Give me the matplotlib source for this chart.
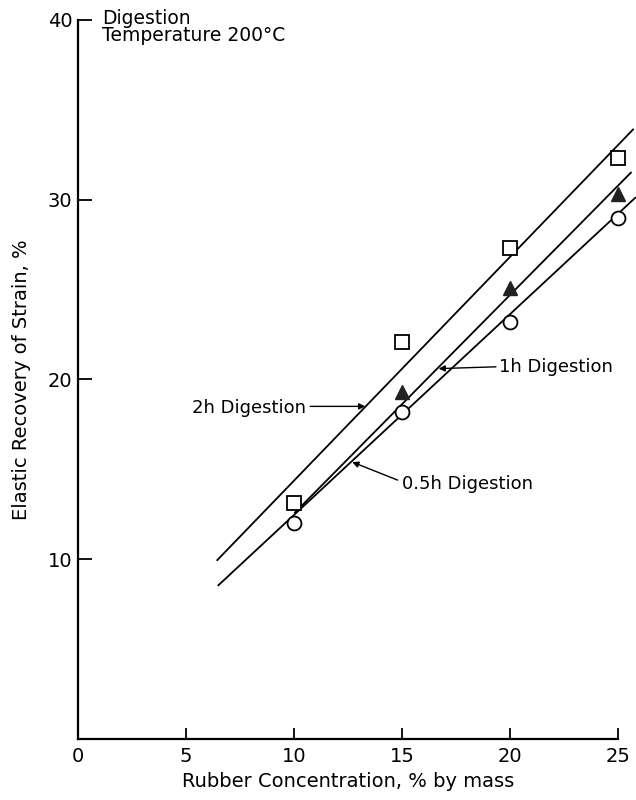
import matplotlib.pyplot as plt

# rubber concentration, % by mass
conc = [10, 15, 20, 25]
conc_1h = [15, 20, 25]

# elastic recovery of strain, %
rec_2h = [13.1, 22.1, 27.3, 32.3]
rec_1h = [19.3, 25.1, 30.3]
rec_05h = [12.0, 18.2, 23.2, 29.0]

# fitted lines (end points)
fit_2h_x = [6.45, 25.7]
fit_2h_y = [9.95, 33.9]
fit_1h_x = [10.05, 25.6]
fit_1h_y = [12.6, 31.5]
fit_05h_x = [6.5, 25.8]
fit_05h_y = [8.55, 30.1]

xticks = [0, 5, 10, 15, 20, 25]
yticks = [10, 20, 30, 40]

plt.rcParams['font.family'] = ['DejaVu Sans']

fig = plt.figure(figsize=(6.36, 8), dpi=100)
ax = fig.add_axes([0.1226, 0.07625, 0.849, 0.899])

for fx, fy in [(fit_2h_x, fit_2h_y), (fit_1h_x, fit_1h_y), (fit_05h_x, fit_05h_y)]:
    ax.plot(fx, fy, color='black', lw=1.3, clip_on=False)

ax.plot(conc, rec_2h, 's', ms=10, mfc='white', mec='black', mew=1.3,
        ls='none', clip_on=False, zorder=3)
ax.plot(conc_1h, rec_1h, '^', ms=10, mfc='#222222', mec='#222222', mew=1,
        ls='none', clip_on=False, zorder=3)
ax.plot(conc, rec_05h, 'o', ms=10, mfc='white', mec='black', mew=1.3,
        ls='none', clip_on=False, zorder=3)

ax.set_xlim(0, 25)
ax.set_ylim(0, 40)
ax.set_xticks(xticks)
ax.set_yticks(yticks)
ax.tick_params(axis='x', direction='in', length=8, width=1.3, labelsize=14, pad=6)
ax.tick_params(axis='y', direction='in', length=10, width=1.3, labelsize=14, pad=4)
for s in ['top', 'right']:
    ax.spines[s].set_visible(False)
for s in ['left', 'bottom']:
    ax.spines[s].set_linewidth(1.6)

ax.set_xlabel('Rubber Concentration, % by mass', fontsize=14, labelpad=4)
ax.set_ylabel('Elastic Recovery of Strain, %', fontsize=14, labelpad=12)

ax.text(1.1, 40.6, 'Digestion\nTemperature 200°C', fontsize=13.5, va='top',
        ha='left', linespacing=0.85)

arrow = dict(arrowstyle='-|>', color='black', lw=1.0, mutation_scale=9,
             shrinkA=0, shrinkB=0)
ax.text(5.3, 18.4, '2h Digestion', fontsize=13, va='center', ha='left')
ax.annotate('', xy=(13.3, 18.5), xytext=(10.75, 18.5), arrowprops=arrow)
ax.text(19.5, 20.7, '1h Digestion', fontsize=13, va='center', ha='left')
ax.annotate('', xy=(16.7, 20.6), xytext=(19.35, 20.7), arrowprops=arrow)
ax.text(15.0, 14.2, '0.5h Digestion', fontsize=13, va='center', ha='left')
ax.annotate('', xy=(12.7, 15.4), xytext=(14.8, 14.4), arrowprops=arrow)

fig.savefig('out.png', dpi=100)
